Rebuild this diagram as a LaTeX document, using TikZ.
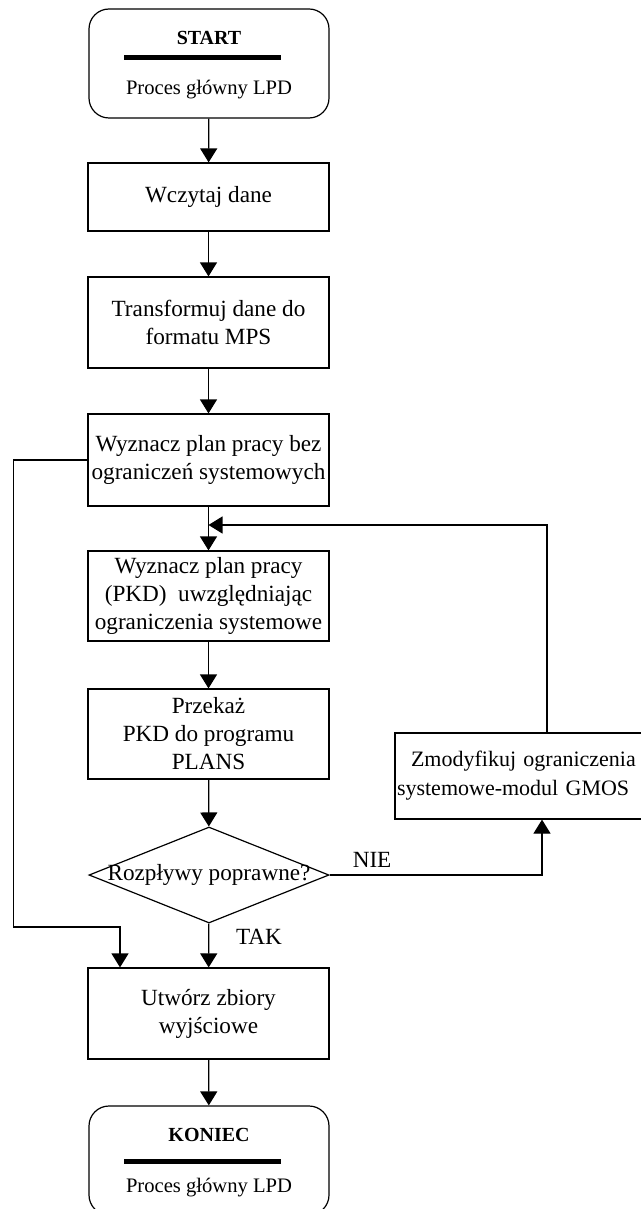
\documentclass[tikz,border=0pt]{standalone}
\usepackage{fontspec}
\setmainfont{Liberation Serif}
\usetikzlibrary{arrows.meta,shapes.geometric}

\begin{document}
\begin{tikzpicture}[x=0.5pt,y=-0.5pt,>={Triangle[length=7pt,width=8.5pt]},line width=0.6pt,
	box/.style={draw,rectangle,minimum width=120.5pt,align=center,inner sep=0pt,font=\fontsize{11.6}{14}\selectfont},
	term/.style={draw,rectangle,rounded corners=10pt,minimum width=120pt,minimum height=54.5pt},
	decision/.style={draw,diamond,minimum width=120pt,minimum height=48pt,inner sep=0pt,font=\fontsize{11.6}{14}\selectfont},
	lbl/.style={font=\fontsize{11.6}{14}\selectfont},
	title/.style={font=\fontsize{10}{12}\selectfont\bfseries},
	sub/.style={font=\fontsize{10.3}{12}\selectfont},
	bar/.style={line width=2.5pt}]
	\clip (0,0) rectangle (641,1209);
	
	%start
	\node[term] (start) at (209,63.5) {};
	\node[title] (starttxt) at (209,38) {START};
	\draw[bar] (124,58) -- (281,58);
	\node[sub] (startsub) at (209,90) {Proces główny LPD};
	
	%steps
	\node[box,minimum height=34pt] (load) at (208.5,197) {Wczytaj dane};
	\node[box,minimum height=45.5pt] (mps) at (208.5,322.5) {Transformuj dane do\\formatu MPS};
	\node[box,minimum height=46pt] (free) at (208.5,460) {Wyznacz plan pracy bez\\ograniczeń systemowych};
	\node[box,minimum height=45pt] (pkd) at (208.5,596) {Wyznacz plan pracy\\(PKD) \ uwzględniając\\ograniczenia systemowe};
	\node[box,minimum height=45pt] (send) at (208.5,734) {Przekaż\\PKD do programu\\PLANS};
	\node[decision] (check) at (209,875) {\makebox[0pt]{Rozpływy poprawne?}};
	\node[box,minimum height=45.5pt] (out) at (208.5,1013.5) {Utwórz zbiory\\wyjściowe};
	\node[box,minimum width=147pt,minimum height=43pt,inner xsep=1pt,text width=145pt,align=left,font=\fontsize{11}{14.5}\selectfont] (mod) at (542,776) {\hspace*{7pt}Zmodyfikuj ograniczenia\\systemowe-modul GMOS};
	
	%stop
	\node[term] (stop) at (209,1160.5) {};
	\node[title] (stoptxt) at (209,1135) {KONIEC};
	\draw[bar] (124,1161) -- (281,1161);
	\node[sub] (stopsub) at (209,1188) {Proces główny LPD};
	
	%main line
	\draw[->] (start) -- (load);
	\draw[->] (load) -- (mps);
	\draw[->] (mps) -- (free);
	\draw[->] (free) -- (pkd);
	\draw[->] (pkd) -- (send);
	\draw[->] (send) -- (check);
	\draw[->] (check) -- node[lbl,right=10pt,pos=0.3] (tak) {TAK} (out);
	\draw[->] (out) -- (stop);
	
	%NIE branch
	\draw[->] (check.east) -- node[lbl,above,pos=0.2] (nie) {NIE} (check.east -| mod.south) -- (mod.south);
	
	%back to the main line
	\coordinate (join) at (208.5,525);
	\draw[->] ([xshift=2.5pt]mod.north) |- (join);
	
	%bypass
	\coordinate (bypass) at (13.5,927);
	\draw[->] (free.west) -| (bypass) -| ([xshift=-44.25pt]out.north);
\end{tikzpicture}
\end{document}
